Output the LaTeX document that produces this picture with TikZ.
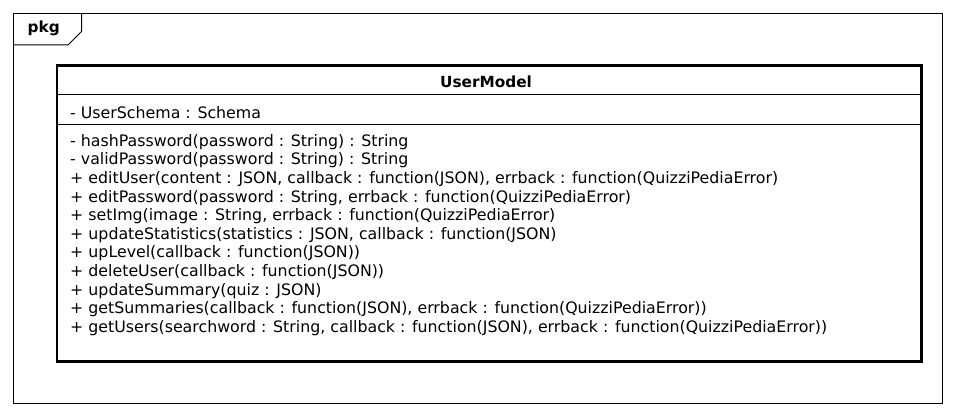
\documentclass[tikz,border=0pt]{standalone}
\usepackage{fontspec}
\setmainfont{DejaVu Sans}
\begin{document}
\begin{tikzpicture}[x=1pt,y=-1pt,
  txt/.style={anchor=base west,inner sep=0pt,font=\fontsize{15.8}{18}\selectfont},
  boldtxt/.style={inner sep=0pt,font=\bfseries\fontsize{15.3}{18}\selectfont},
  frame/.style={draw,line width=1pt},
  classbox/.style={draw,line width=2.8pt,minimum width=864.5pt,minimum height=296pt,inner sep=0pt}]
\useasboundingbox[fill=white] (0,0) rectangle (956,417);
% package frame
\draw[frame] (13,13.5) rectangle (942.5,403);
\draw[frame] (13,45) -- (68,45) -- (81.5,31.5) -- (81.5,13.5);
\node[boldtxt,anchor=base west] (pkg) at (27.5,33) {pkg};
% class
\node[classbox] (cls) at (489.25,213.5) {};
\draw[line width=1pt] (57,94.3) -- (921.5,94.3);
\draw[line width=1pt] (57,124.3) -- (921.5,124.3);
\node[boldtxt,anchor=base] (title) at (486,87.7) {UserModel};
\node[txt] (a1) at (70,118.5) {- UserSchema : Schema};
\node[txt] (m1) at (70,146.3) {- hashPassword(password : String) : String};
\node[txt] (m2) at (70,164.9) {- validPassword(password : String) : String};
\node[txt] (m3) at (70,183.5) {+ editUser(content : JSON, callback : function(JSON), errback : function(QuizziPediaError)};
\node[txt] (m4) at (70,202.1) {+ editPassword(password : String, errback : function(QuizziPediaError)};
\node[txt] (m5) at (70,220.7) {+ setImg(image : String, errback : function(QuizziPediaError)};
\node[txt] (m6) at (70,239.3) {+ updateStatistics(statistics : JSON, callback : function(JSON)};
\node[txt] (m7) at (70,257.9) {+ upLevel(callback : function(JSON))};
\node[txt] (m8) at (70,276.5) {+ deleteUser(callback : function(JSON))};
\node[txt] (m9) at (70,295.1) {+ updateSummary(quiz : JSON)};
\node[txt] (m10) at (70,313.7) {+ getSummaries(callback : function(JSON), errback : function(QuizziPediaError))};
\node[txt] (m11) at (70,332.3) {+ getUsers(searchword : String, callback : function(JSON), errback : function(QuizziPediaError))};
\end{tikzpicture}
\end{document}
